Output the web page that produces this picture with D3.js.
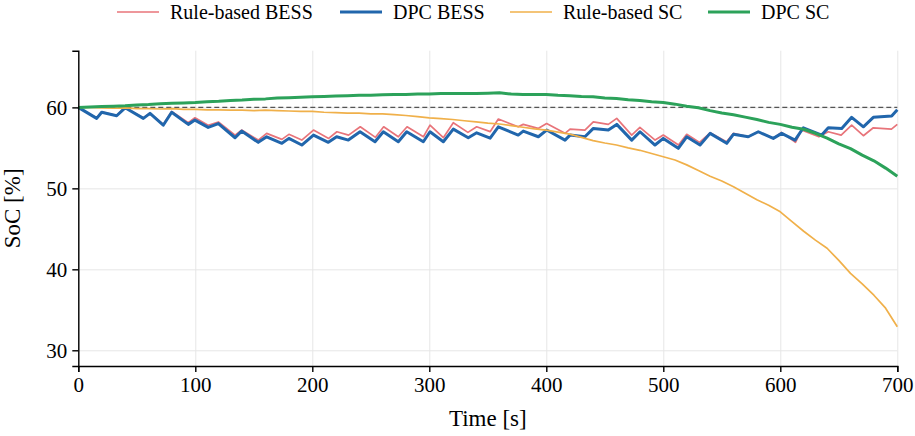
<!DOCTYPE html>
<html>
<head>
<meta charset="utf-8">
<script src="https://cdn.jsdelivr.net/npm/d3@7"></script>
<style>
  body { margin: 0; background: #fff; }
  svg text { font-family: "Liberation Serif", Tinos, "Times New Roman", "Nimbus Roman", "DejaVu Serif", serif !important; }
</style>
</head>
<body>
<div id="chart"></div>
<script>
// tick values
const xTicks = [0, 100, 200, 300, 400, 500, 600, 700];
const yTicks = [30, 40, 50, 60];
const refSoC = 60;

const seriesNames = ["Rule-based BESS", "DPC BESS", "Rule-based SC", "DPC SC"];

// rule-based BESS, [time s, SoC %]
const ruleBess = [
  [0, 60], [15.7, 58.7], [20, 59.45], [32.8, 59.0], [40, 60.0], [55.6, 58.7], [61.3, 59.3],
  [72.6, 57.9], [79.8, 59.5], [94, 58.1], [99.7, 58.72], [111, 57.8], [119.7, 58.2],
  [134, 56.58], [139.6, 57.2], [153.8, 55.96], [161, 56.79], [174, 56.05], [180, 56.67],
  [191, 55.96], [201, 57.2], [214, 56.17], [221, 56.99], [231, 56.58], [241, 57.6],
  [254, 56.3], [261, 57.6], [273.5, 56.37], [281, 57.6], [295, 56.37], [300.6, 57.8],
  [312, 56.25], [320.5, 58.1], [333, 56.91], [340.5, 57.6], [352, 57.0], [359, 58.56],
  [376, 57.6], [380.3, 57.9], [393, 57.4], [400.3, 58.0], [416, 56.79], [420.3, 57.32],
  [433, 57.2], [440.2, 58.2], [453, 57.9], [460.2, 58.64], [473, 56.58], [480, 57.53],
  [493, 55.96], [500, 56.58], [513, 55.35], [520, 56.67], [531, 55.68], [540, 56.86],
  [554, 55.75], [560, 56.79], [573, 56.37], [581, 56.99], [594, 56.17], [601, 56.91],
  [613, 55.68], [618, 57.2], [633, 56.37], [641, 56.99], [652, 56.58], [661, 57.8],
  [671, 56.5], [679.5, 57.48], [695, 57.32], [700, 57.9]
];

// DPC BESS
const dpcBess = [
  [0, 60], [15.7, 58.64], [20, 59.4], [32.8, 58.97], [40, 59.95], [55.6, 58.64], [61.3, 59.26],
  [72.6, 57.8], [79.8, 59.4], [94, 57.9], [99.7, 58.43], [111, 57.53], [119.7, 58.0],
  [134, 56.25], [139.6, 57.07], [153.8, 55.68], [161, 56.37], [174, 55.56], [180, 56.17],
  [191, 55.35], [201, 56.58], [213.7, 55.68], [220.8, 56.37], [230.8, 55.96], [240.8, 56.99],
  [253.6, 55.75], [260.7, 56.99], [273.5, 55.75], [280.7, 56.99], [294.9, 55.75], [300.6, 56.99],
  [312, 55.75], [320.5, 57.32], [333.3, 56.25], [340.5, 56.86], [352, 56.2], [359, 57.6],
  [376, 56.58], [380.3, 57.07], [393.2, 56.37], [400.3, 57.2], [416, 55.96], [420.3, 56.58],
  [433, 56.37], [440.2, 57.4], [453, 57.2], [460.2, 57.9], [473, 55.96], [480.1, 56.99],
  [492.9, 55.35], [500, 56.17], [512.8, 54.94], [520, 56.37], [531.4, 55.35], [540, 56.79],
  [554.2, 55.56], [559.9, 56.67], [572.6, 56.37], [581.2, 56.99], [594, 56.17], [601.2, 56.79],
  [612.6, 55.96], [619.7, 57.48], [635.4, 56.58], [641, 57.48], [652.5, 57.4], [661, 58.77],
  [671, 57.6], [679.5, 58.77], [695.2, 58.93], [700, 59.7]
];

// SC series sampled every 10 s
const scTime = d3.range(0, 701, 10);
const ruleSc = [
  60.0, 60.0, 59.95, 59.9, 59.95, 59.85, 59.85, 59.8, 59.85, 59.75,
  59.75, 59.7, 59.7, 59.65, 59.65, 59.6, 59.65, 59.6, 59.55, 59.5,
  59.5, 59.4, 59.35, 59.3, 59.3, 59.2, 59.2, 59.1, 59.0, 58.85,
  58.7, 58.6, 58.5, 58.35, 58.2, 58.05, 57.95, 57.75, 57.55, 57.35,
  57.2, 56.95, 56.7, 56.3, 55.9, 55.6, 55.35, 55.0, 54.7, 54.3,
  53.9, 53.5, 52.9, 52.2, 51.5, 50.9, 50.2, 49.4, 48.6, 47.9,
  47.1, 45.9, 44.7, 43.6, 42.6, 41.1, 39.5, 38.2, 36.8, 35.2,
  32.9
];
const dpcSc = [
  60.0, 60.05, 60.1, 60.15, 60.2, 60.3, 60.35, 60.45, 60.5, 60.55,
  60.6, 60.7, 60.75, 60.85, 60.9, 61.0, 61.05, 61.15, 61.2, 61.25,
  61.3, 61.35, 61.4, 61.45, 61.5, 61.5, 61.55, 61.6, 61.6, 61.65,
  61.65, 61.7, 61.7, 61.7, 61.7, 61.75, 61.8, 61.65, 61.6, 61.6,
  61.6, 61.5, 61.45, 61.35, 61.3, 61.15, 61.1, 60.95, 60.85, 60.7,
  60.6, 60.4, 60.15, 59.95, 59.6, 59.3, 59.1, 58.8, 58.5, 58.15,
  57.9, 57.55, 57.3, 56.8, 56.2, 55.5, 54.9, 54.1, 53.4, 52.5,
  51.5
];

const colors = ["#e8747a", "#2166ac", "#f0b04a", "#2ca25a"];
const widths = [1.7, 3, 1.7, 3];
const serif = "'Liberation Serif', Tinos, 'Times New Roman', 'DejaVu Serif', serif";

// svg overall calculation
const svgWidth = 915, svgHeight = 436;
const margin = { top: 50.7, right: 17.7, bottom: 70, left: 78.3 },
  width = svgWidth - margin.left - margin.right,
  height = svgHeight - margin.top - margin.bottom;

const root = d3.select("#chart")
  .append("svg")
  .attr("width", svgWidth)
  .attr("height", svgHeight)
  .attr("font-family", serif);

const svg = root.append("g")
  .attr("transform", "translate(" + margin.left + "," + margin.top + ")");

const x = d3.scaleLinear().domain([0, 700]).range([0, width]);
const y = d3.scaleLinear().domain([28.06, 67]).range([height, 0]);

// grid
svg.append("g")
  .attr("class", "x-grid")
  .attr("transform", "translate(0," + height + ")")
  .call(d3.axisBottom(x).tickValues(xTicks).tickSize(-height).tickFormat(""))
  .call(g => g.select(".domain").remove())
  .call(g => g.selectAll("line").attr("stroke", "#e6e6e6").attr("stroke-width", 1));

svg.append("g")
  .attr("class", "y-grid")
  .call(d3.axisLeft(y).tickValues(yTicks).tickSize(-width).tickFormat(""))
  .call(g => g.select(".domain").remove())
  .call(g => g.selectAll("line").attr("stroke", "#e6e6e6").attr("stroke-width", 1));

// reference line at 60 %
svg.append("line")
  .attr("x1", x(0))
  .attr("x2", x(700))
  .attr("y1", y(refSoC))
  .attr("y2", y(refSoC))
  .attr("stroke", "#555")
  .attr("stroke-width", 1.2)
  .attr("stroke-dasharray", "5,3");

const line = d3.line()
  .x(d => x(d[0]))
  .y(d => y(d[1]));

const allSeries = [
  ruleBess,
  dpcBess,
  scTime.map((t, i) => [t, ruleSc[i]]),
  scTime.map((t, i) => [t, dpcSc[i]])
];

svg.selectAll(".series")
  .data(allSeries)
  .join("path")
  .attr("class", "series")
  .attr("d", line)
  .attr("fill", "none")
  .attr("stroke", (d, i) => colors[i])
  .attr("stroke-width", (d, i) => widths[i])
  .attr("stroke-linejoin", "round");

// axes
const xAxis = svg.append("g")
  .attr("transform", "translate(0," + height + ")")
  .call(d3.axisBottom(x).tickValues(xTicks).tickSize(6).tickPadding(5));

const yAxis = svg.append("g")
  .call(d3.axisLeft(y).tickValues(yTicks).tickSize(6).tickPadding(5));

[xAxis, yAxis].forEach(g => {
  g.attr("font-family", serif).attr("font-size", 21);
  g.select(".domain").attr("stroke", "#000").attr("stroke-width", 1.4);
  g.selectAll(".tick line").attr("stroke", "#000").attr("stroke-width", 1.4);
  g.selectAll(".tick text").attr("fill", "#000");
});

// axis labels
svg.append("text")
  .attr("x", width / 2)
  .attr("y", height + 60)
  .attr("text-anchor", "middle")
  .attr("font-size", 23)
  .text("Time [s]");

svg.append("text")
  .attr("transform", "translate(" + (-58) + "," + (height / 2) + ") rotate(-90)")
  .attr("text-anchor", "middle")
  .attr("font-size", 23)
  .text("SoC [%]");

// legend
const legendX = [117, 340, 510, 708];
const legend = root.append("g")
  .attr("class", "legend")
  .selectAll("g")
  .data(seriesNames)
  .join("g")
  .attr("transform", (d, i) => "translate(" + legendX[i] + ",12)");

legend.append("line")
  .attr("x1", 0)
  .attr("x2", 42)
  .attr("stroke", (d, i) => colors[i])
  .attr("stroke-width", (d, i) => widths[i]);

legend.append("text")
  .attr("x", 53)
  .attr("dy", "0.35em")
  .attr("font-size", 20)
  .text(d => d);
</script>
</body>
</html>
